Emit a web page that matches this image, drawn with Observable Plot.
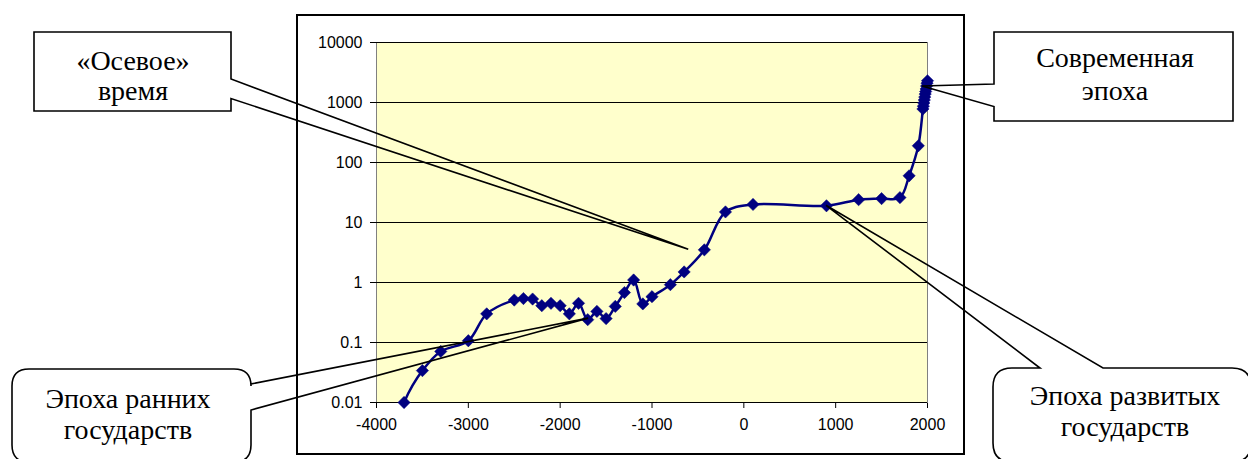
<!DOCTYPE html>
<html><head><meta charset="utf-8">
<script src="https://cdn.jsdelivr.net/npm/d3@7"></script>
<script src="https://cdn.jsdelivr.net/npm/@observablehq/plot@0.6"></script>
<style>html,body{margin:0;padding:0;background:#fff;overflow:hidden}
#wrap{position:relative;width:1248px;height:459px}
#chart{position:absolute;left:0;top:0}
#overlay{position:absolute;left:0;top:0;pointer-events:none}
div.callout{position:absolute;width:300px;text-align:center;white-space:nowrap;color:#000;
  font-family:"Liberation Serif","Times New Roman",serif !important;font-size:28px;line-height:28px;}</style>
</head><body><div id="wrap"><div id="chart"></div>
<svg id="overlay" width="1248" height="459" viewBox="0 0 1248 459"></svg></div>
<script>
// Data (year, value on a log scale)
const years  = [-3800, -3700, -3500, -3300, -3000, -2800, -2500, -2400, -2300, -2200, -2100, -2000, -1900, -1800, -1700, -1600, -1500, -1400, -1300, -1200, -1100, -1000, -800, -650, -430, -200, 100, 900, 1250, 1500, 1700, 1800, 1900, 1950, 1955, 1960, 1965, 1970, 1975, 1980, 1985, 1990, 1995, 2000];
const values = [0.003, 0.01, 0.034, 0.071, 0.107, 0.30, 0.51, 0.54, 0.53, 0.41, 0.45, 0.41, 0.30, 0.45, 0.24, 0.33, 0.25, 0.40, 0.68, 1.1, 0.44, 0.58, 0.92, 1.5, 3.5, 15, 20, 19, 24, 25, 26, 60, 190, 780, 870, 980, 1100, 1230, 1380, 1520, 1680, 1880, 2100, 2300];

const xTicks  = [-4000, -3000, -2000, -1000, 0, 1000, 2000];
const xLabels = ["-4000", "-3000", "-2000", "-1000", "0", "1000", "2000"];
const yTicks  = [0.01, 0.1, 1, 10, 100, 1000, 10000];
const yLabels = ["0.01", "0.1", "1", "10", "100", "1000", "10000"];

// Callout labels and the data point each one points at
const calloutLines = [["«Осевое»", "время"], ["Эпоха ранних", "государств"], ["Современная", "эпоха"], ["Эпоха развитых", "государств"]];
const calloutYear  = [-600, -1690, 1945, 900];
const calloutValue = [3.5, 0.25, 1850, 19];

const data = years.map((y, i) => ({year: y, value: values[i]}));
const shown = data.filter(d => d.value >= 0.01);

const chart = Plot.plot({
  width: 1248, height: 459,
  marginLeft: 376, marginRight: 321, marginTop: 42, marginBottom: 57,
  style: {fontFamily: "Liberation Sans, Arial, sans-serif", fontSize: "16px", background: "#fff", color: "#000"},
  x: {domain: [-4000, 2000], ticks: xTicks, tickFormat: d => xLabels[xTicks.indexOf(d)], tickSize: 6, tickPadding: 10, label: null},
  y: {type: "log", domain: [0.01, 10000], ticks: yTicks, tickFormat: d => yLabels[yTicks.indexOf(d)], tickSize: 6, tickPadding: 8, label: null},
  marks: [
    Plot.frame({fill: "#FFFFCC", stroke: "#808080"}),
    Plot.ruleY(yTicks, {stroke: "#000", strokeWidth: 1}),
    Plot.line(data, {x: "year", y: "value", stroke: "#000080", strokeWidth: 2.5, curve: "catmull-rom", clip: true}),
    Plot.dot(shown, {x: "year", y: "value", symbol: "square", r: 4.9, rotate: 45, fill: "#000080", stroke: "#000080", strokeWidth: 0.5})
  ]
});
document.getElementById("chart").appendChild(chart);

const sx = chart.scale("x"), sy = chart.scale("y");
const fx = sx.apply ? v => sx.apply(v) : d3.scaleLinear(sx.domain, sx.range);
const fy = sy.apply ? v => sy.apply(v) : d3.scaleLog(sy.domain, sy.range);
const tips = calloutYear.map((y, i) => [fx(y), fy(calloutValue[i])]);

const svg = d3.select("#overlay");
// outer chart border
svg.append("rect").attr("x", 297).attr("y", 15).attr("width", 667).attr("height", 439)
  .attr("fill", "none").attr("stroke", "#000").attr("stroke-width", 2);

const g = svg.append("g").attr("fill", "none").attr("stroke", "#000").attr("stroke-width", 1.6).attr("stroke-linejoin", "miter");
// 1: rectangle callout, wedge from right edge
{
  const [tx, ty] = tips[0];
  g.append("path").attr("d", `M34,32 H231 V79 L${tx},${ty} L231,98.5 V111 H34 Z`);
}
// 2: rounded callout, wedge from right edge
{
  const [tx, ty] = tips[1]; const L = 12, T = 369, R = 251, B = 462, r = 17;
  g.append("path").attr("d", `M${L+r},${T} H${R-r} Q${R},${T} ${R},${T+r} L${R},384 L${tx},${ty} L${R},410 V${B-r} Q${R},${B} ${R-r},${B} H${L+r} Q${L},${B} ${L},${B-r} V${T+r} Q${L},${T} ${L+r},${T} Z`);
}
// 3: rectangle callout, wedge from left edge
{
  const [tx, ty] = tips[2];
  g.append("path").attr("d", `M994,32 H1233 V121 H994 V106.5 L${tx},${ty} L994,84 Z`);
}
// 4: rounded callout, wedge from top edge
{
  const [tx, ty] = tips[3]; const L = 993, T = 368, R = 1251, B = 462, r = 19;
  g.append("path").attr("d", `M${L+r},${T} H1040 L${tx},${ty} L1103,${T} H${R-r} Q${R},${T} ${R},${T+r} V${B-r} Q${R},${B} ${R-r},${B} H${L+r} Q${L},${B} ${L},${B-r} V${T+r} Q${L},${T} ${L+r},${T} Z`);
}

// callout texts as HTML (centre x, baseline of line 1, baseline of line 2)
const textPos = [[133, 70, 100], [128, 408, 439], [1115, 67, 100], [1125, 405, 436]];
const wrap = document.getElementById("wrap");
calloutLines.forEach((lines, i) => {
  const [cx, b1, b2] = textPos[i];
  [b1, b2].forEach((b, j) => {
    const div = document.createElement("div");
    div.className = "callout";
    div.style.setProperty("font-family", "'Liberation Serif', 'Times New Roman', serif", "important");
    div.style.left = (cx - 150) + "px";
    div.style.top = (b - 23.5) + "px";
    div.textContent = lines[j];
    wrap.appendChild(div);
  });
});
</script></body></html>
